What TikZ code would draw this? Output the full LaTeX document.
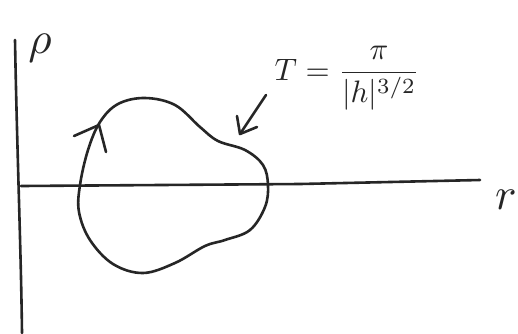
\documentclass[tikz,border=0pt]{standalone}
\usepackage{amsmath}
\begin{document}
\begin{tikzpicture}[x=1pt,y=-1pt,
  ink/.style={line width=2.6pt,line cap=round,line join=round,black!85},
  lbl/.style={inner sep=0pt,black!85}]
\useasboundingbox (0,0) rectangle (518,333);
\fill[white] (0,0) rectangle (518,333);
% axes
\draw[ink] (15,40) .. controls (17,150) and (21,250) .. (22,333);
\draw[ink] (21,186) -- (300,184) -- (480,180);
% labels
\node[lbl,scale=4.5] (rho) at (40,48) {$\rho$};
\node[lbl,scale=4.5] (r) at (506,200) {$r$};
\node[lbl,anchor=west,scale=3.1] (T) at (274,78) {$T=\dfrac{\pi}{|h|^{3/2}}$};
% closed orbit
\draw[ink] plot[smooth cycle,tension=0.6] coordinates {
 (80,185) (88,150) (100,122) (118,104) (145,98) (175,105) (200,127)
 (218,141) (245,150) (263,165) (268,185) (265,207) (250,230) (225,240)
 (205,246) (175,263) (143,273) (113,264) (90,240) (79,212)};
% direction arrowhead on orbit
\coordinate (tip) at (99,125);
\draw[ink] (74,136) -- (tip) -- (106,152);
% pointer to orbit
\coordinate (ptail) at (266,95);
\coordinate (phead) at (240,134);
\draw[ink] (ptail) -- (phead);
\draw[ink] (237,116) -- (phead) -- (257,127);
\end{tikzpicture}
\end{document}
